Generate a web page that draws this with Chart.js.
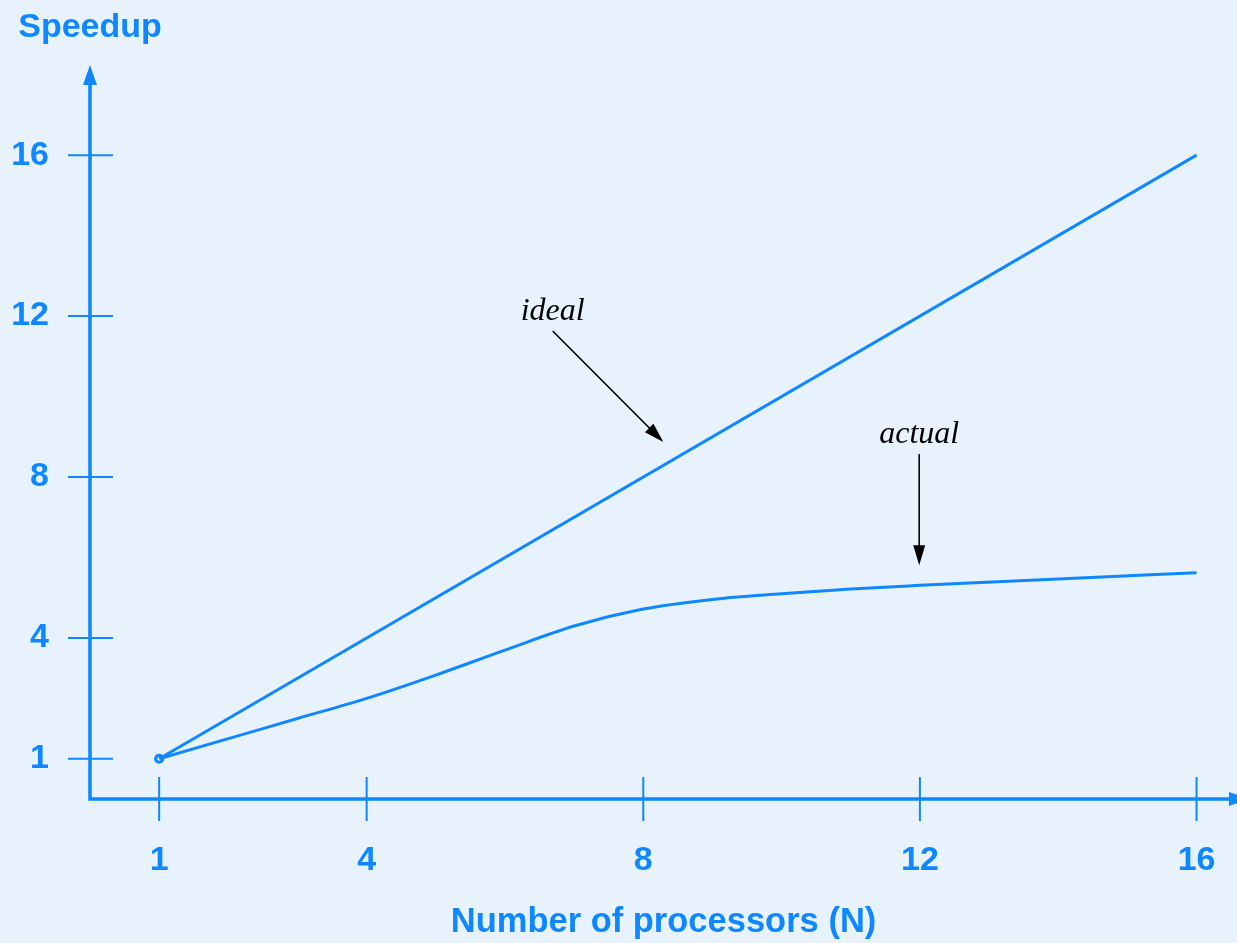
<!DOCTYPE html>
<html>
<head>
<meta charset="utf-8">
<title>Speedup vs processors</title>
<script src="https://cdn.jsdelivr.net/npm/chart.js@4"></script>
<style>
  html, body { margin: 0; padding: 0; background: #e8f2fd; }
  #wrap { width: 1237px; height: 943px; }
</style>
</head>
<body>
<div id="wrap"><canvas id="speedupChart" width="1237" height="943"></canvas></div>
<script>
// data
const idealN = [1, 16];
const idealSpeedup = [1, 16];
const actualN = [1, 2, 3, 4, 5, 6, 7, 8, 9, 10, 11, 12, 14, 16];
const actualSpeedup = [1, 1.5, 2.0, 2.5, 3.08, 3.7, 4.3, 4.72, 4.96, 5.1, 5.22, 5.31, 5.47, 5.62];
const xTicks = [1, 4, 8, 12, 16];
const yTicks = [1, 4, 8, 12, 16];

const BLUE = '#0f87ff';
const BG = '#e8f2fd';

// text callouts (label + arrow), in data units
const callouts = [
    { text: 'ideal',  lx: 6.69, ly: 11.9, from: [6.69, 11.63], to: [8.29, 8.87] },
    { text: 'actual', lx: 11.99, ly: 8.84, from: [11.99, 8.57], to: [11.99, 5.81] }
];

function arrowHead(ctx, x1, y1, x2, y2, len, half) {
    const a = Math.atan2(y2 - y1, x2 - x1);
    ctx.beginPath();
    ctx.moveTo(x2, y2);
    ctx.lineTo(x2 - len * Math.cos(a) + half * Math.sin(a), y2 - len * Math.sin(a) - half * Math.cos(a));
    ctx.lineTo(x2 - len * Math.cos(a) - half * Math.sin(a), y2 - len * Math.sin(a) + half * Math.cos(a));
    ctx.closePath();
    ctx.fill();
}

// axes with arrows + crossing tick marks
const axesPlugin = {
    id: 'axesPlugin',
    beforeDraw(chart) {
        const ctx = chart.ctx;
        ctx.save();
        ctx.fillStyle = BG;
        ctx.fillRect(0, 0, chart.width, chart.height);
        ctx.restore();
    },
    beforeDatasetsDraw(chart) {
        const { ctx, chartArea, scales } = chart;
        const x0 = scales.x.getPixelForValue(0);
        const y0 = scales.y.getPixelForValue(0);
        ctx.save();
        ctx.strokeStyle = BLUE;
        ctx.fillStyle = BLUE;

        // tick crosses
        ctx.lineWidth = 2;
        yTicks.forEach(v => {
            const py = scales.y.getPixelForValue(v);
            ctx.beginPath();
            ctx.moveTo(x0 - 22, py);
            ctx.lineTo(x0 + 23, py);
            ctx.stroke();
        });
        xTicks.forEach(v => {
            const px = scales.x.getPixelForValue(v);
            ctx.beginPath();
            ctx.moveTo(px, y0 - 22);
            ctx.lineTo(px, y0 + 22);
            ctx.stroke();
        });

        // axis lines
        ctx.lineWidth = 3.6;
        ctx.lineJoin = 'miter';
        ctx.beginPath();
        ctx.moveTo(x0, chartArea.top + 15);
        ctx.lineTo(x0, y0);
        ctx.lineTo(chartArea.right - 5, y0);
        ctx.stroke();
        arrowHead(ctx, x0, y0, x0, chartArea.top, 20, 7);
        arrowHead(ctx, x0, y0, chartArea.right + 12, y0, 20, 7);
        ctx.restore();
    },
    afterDraw(chart) {
        const { ctx, scales } = chart;
        ctx.save();
        // axis name on top of the y axis
        ctx.fillStyle = BLUE;
        ctx.font = 'bold 34px "Liberation Sans", Arial, sans-serif';
        ctx.textAlign = 'center';
        ctx.textBaseline = 'alphabetic';
        ctx.fillText('Speedup', scales.x.getPixelForValue(0), 37);

        // callouts
        ctx.fillStyle = '#000';
        ctx.strokeStyle = '#000';
        ctx.lineWidth = 1.6;
        ctx.font = 'italic 32px "Liberation Serif", "Times New Roman", serif';
        callouts.forEach(c => {
            ctx.fillText(c.text, scales.x.getPixelForValue(c.lx), scales.y.getPixelForValue(c.ly));
            const x1 = scales.x.getPixelForValue(c.from[0]), y1 = scales.y.getPixelForValue(c.from[1]);
            const x2 = scales.x.getPixelForValue(c.to[0]), y2 = scales.y.getPixelForValue(c.to[1]);
            const a = Math.atan2(y2 - y1, x2 - x1);
            ctx.beginPath();
            ctx.moveTo(x1, y1);
            ctx.lineTo(x2 - 12 * Math.cos(a), y2 - 12 * Math.sin(a));
            ctx.stroke();
            arrowHead(ctx, x1, y1, x2, y2, 20, 6);
        });
        ctx.restore();
    }
};

const tickFont = { family: '"Liberation Sans", Arial, sans-serif', size: 34, weight: 'bold' };

new Chart(document.getElementById('speedupChart'), {
    type: 'line',
    data: {
        datasets: [
            {
                label: 'ideal',
                data: idealN.map((n, i) => ({ x: n, y: idealSpeedup[i] })),
                borderColor: BLUE,
                borderWidth: 3,
                tension: 0,
                pointRadius: 0,
                fill: false
            },
            {
                label: 'actual',
                data: actualN.map((n, i) => ({ x: n, y: actualSpeedup[i] })),
                borderColor: BLUE,
                borderWidth: 3,
                cubicInterpolationMode: 'monotone',
                pointRadius: ctx => ctx.dataIndex === 0 ? 3.5 : 0,
                pointBorderWidth: 3.2,
                pointBackgroundColor: BG,
                pointBorderColor: BLUE,
                fill: false
            }
        ]
    },
    options: {
        responsive: false,
        animation: false,
        layout: { autoPadding: false, padding: { top: 65, right: 0, left: 0, bottom: 0 } },
        plugins: { legend: { display: false }, tooltip: { enabled: false } },
        scales: {
            x: {
                type: 'linear',
                min: 0,
                max: 16.585,
                afterBuildTicks: s => { s.ticks = xTicks.map(v => ({ value: v })); },
                afterFit: s => { s.height = 144; s.paddingLeft = 0; s.paddingRight = 0; },
                grid: { display: false, drawTicks: false },
                border: { display: false },
                ticks: { color: BLUE, font: tickFont, padding: 41, maxRotation: 0 },
                title: {
                    display: true,
                    text: 'Number of processors (N)',
                    color: BLUE,
                    font: { family: '"Liberation Sans", Arial, sans-serif', size: 34.5, weight: 'bold' },
                    padding: { top: 0, bottom: 0 }
                }
            },
            y: {
                type: 'linear',
                min: 0,
                max: 18.24,
                afterBuildTicks: s => { s.ticks = yTicks.map(v => ({ value: v })); },
                afterFit: s => { s.width = 90; s.paddingTop = 0; s.paddingBottom = 0; },
                grid: { display: false, drawTicks: false },
                border: { display: false },
                ticks: { color: BLUE, font: tickFont, padding: 41 }
            }
        }
    },
    plugins: [axesPlugin]
});
</script>
</body>
</html>
